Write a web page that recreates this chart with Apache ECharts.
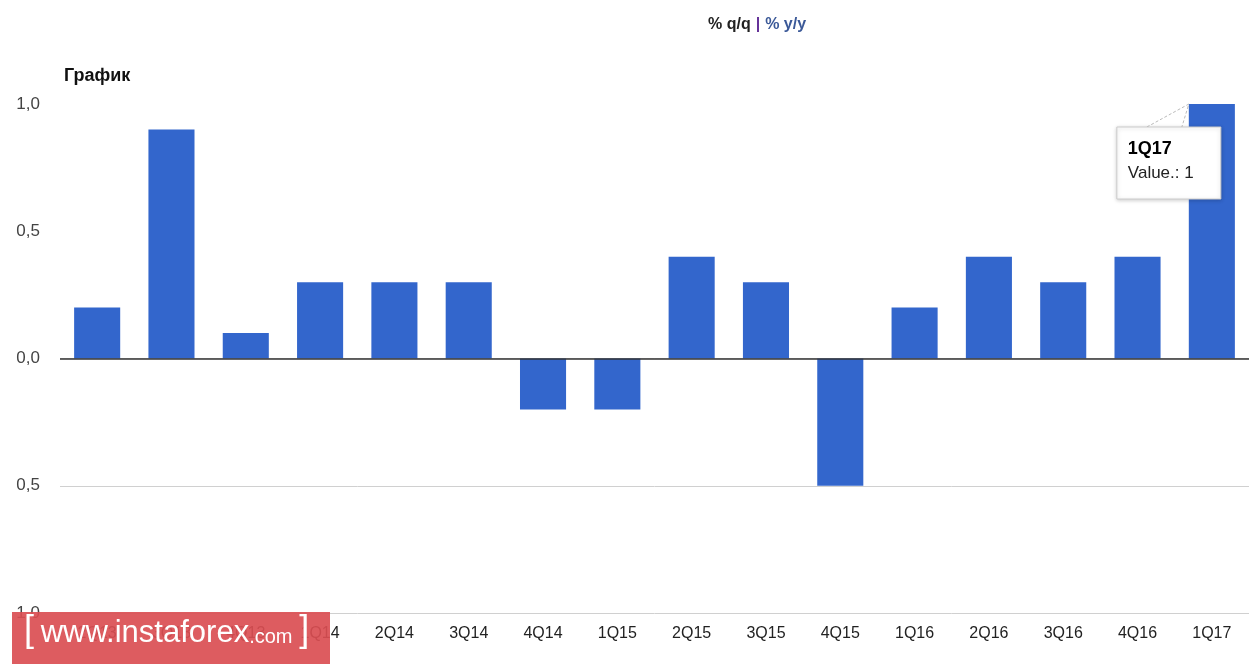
<!DOCTYPE html>
<html lang="ru">
<head>
<meta charset="UTF-8">
<title>График</title>
<style>
html, body { margin: 0; padding: 0; background: #fff; }
#main { width: 1249px; height: 664px; }
</style>
</head>
<body>
<div id="main"></div>
<script src="https://cdn.jsdelivr.net/npm/echarts@6/dist/echarts.min.js"></script>
<script>
// кварталы и значения, % q/q
var quarters = ['2Q13', '3Q13', '4Q13', '1Q14', '2Q14', '3Q14', '4Q14', '1Q15',
                '2Q15', '3Q15', '4Q15', '1Q16', '2Q16', '3Q16', '4Q16', '1Q17'];
var values = [0.2, 0.9, 0.1, 0.3, 0.3, 0.3, -0.2, -0.2,
              0.4, 0.3, -0.5, 0.2, 0.4, 0.3, 0.4, 1.0];
var yTicks = [-1, -0.5, 0, 0.5, 1];
var tipIndex = 15;

var FONT = 'Arial, Liberation Sans';
var chart = echarts.init(document.getElementById('main'));

var option = {
    animation: false,
    title: [{
        text: '{a|% q/q} {s||} {b|% y/y}',
        left: 703,
        top: 11,
        textStyle: {
            rich: {
                a: { fontFamily: FONT, fontWeight: 'bold', fontSize: 16, color: '#222' },
                s: { fontFamily: FONT, fontWeight: 'bold', fontSize: 16, color: '#663399' },
                b: { fontFamily: FONT, fontWeight: 'bold', fontSize: 16, color: '#3b5998' }
            }
        }
    }, {
        text: 'График',
        left: 59,
        top: 62,
        textStyle: { fontFamily: FONT, fontWeight: 'bold', fontSize: 18, color: '#111' }
    }],
    grid: { left: 60, right: 0, top: 104, bottom: 51, containLabel: false },
    xAxis: {
        type: 'category',
        data: quarters,
        axisLine: { show: false },
        axisTick: { show: false },
        axisLabel: { color: '#222', fontSize: 16, fontFamily: FONT, margin: 13 }
    },
    yAxis: {
        type: 'value',
        min: yTicks[0],
        max: yTicks[yTicks.length - 1],
        interval: 0.5,
        axisLine: { show: false },
        axisTick: { show: false },
        axisLabel: {
            color: '#444', fontSize: 17, fontFamily: FONT, margin: 20,
            formatter: function (v) { return Math.abs(v).toFixed(1).replace('.', ','); }
        },
        splitLine: { lineStyle: { color: ['#d0d0d0', '#d0d0d0', '#d0d0d0', '#ffffff', '#ffffff'], width: 1 } }
    },
    series: [{
        type: 'bar',
        data: values,
        barCategoryGap: '38%',
        itemStyle: { color: '#3366cc' },
        markLine: {
            silent: true,
            symbol: 'none',
            label: { show: false },
            lineStyle: { color: '#333', type: 'solid', width: 1.5 },
            data: [{ yAxis: 0 }]
        }
    }]
};
chart.setOption(option);

// подсказка у последнего столбца
var p = chart.convertToPixel({ seriesIndex: 0 }, [tipIndex, values[tipIndex]]);
var bx = p[0] - 95, by = p[1] + 23;
chart.setOption({
    graphic: [{
        type: 'polyline',
        shape: { points: [[bx + 30, by], [p[0] - 23, p[1]], [bx + 65, by]] },
        style: { stroke: '#bbb', lineWidth: 1, lineDash: [3, 2], fill: null },
        z: 100
    }, {
        type: 'rect',
        shape: { x: bx, y: by, width: 104, height: 72 },
        style: { fill: '#fff', stroke: '#ccc', lineWidth: 1, shadowBlur: 4, shadowColor: 'rgba(0,0,0,0.2)', shadowOffsetY: 1 },
        z: 101
    }, {
        type: 'text',
        x: bx + 11, y: by + 13,
        style: { text: quarters[tipIndex], fontFamily: FONT, fontWeight: 'bold', fontSize: 18, fill: '#000' },
        z: 102
    }, {
        type: 'text',
        x: bx + 11, y: by + 38,
        style: { text: 'Value.: ' + values[tipIndex], fontFamily: FONT, fontSize: 17, fill: '#222' },
        z: 102
    }, {
        // водяной знак
        type: 'rect',
        shape: { x: 12, y: 612, width: 318, height: 52 },
        style: { fill: 'rgba(218, 78, 82, 0.92)' },
        z: 110
    }, {
        type: 'text',
        x: 24, y: 613,
        style: {
            text: '{br|[}  {w|www.instaforex}{c|.com}  {br|]}',
            rich: {
                br: { fontFamily: FONT, fontSize: 36, fill: '#fff', fontWeight: 'lighter' },
                w: { fontFamily: FONT, fontSize: 31, fill: '#fff', padding: [4, 0, 0, 0] },
                c: { fontFamily: FONT, fontSize: 20, fill: '#fff', padding: [12, 0, 0, 0] }
            }
        },
        z: 111
    }]
});
</script>
</body>
</html>
